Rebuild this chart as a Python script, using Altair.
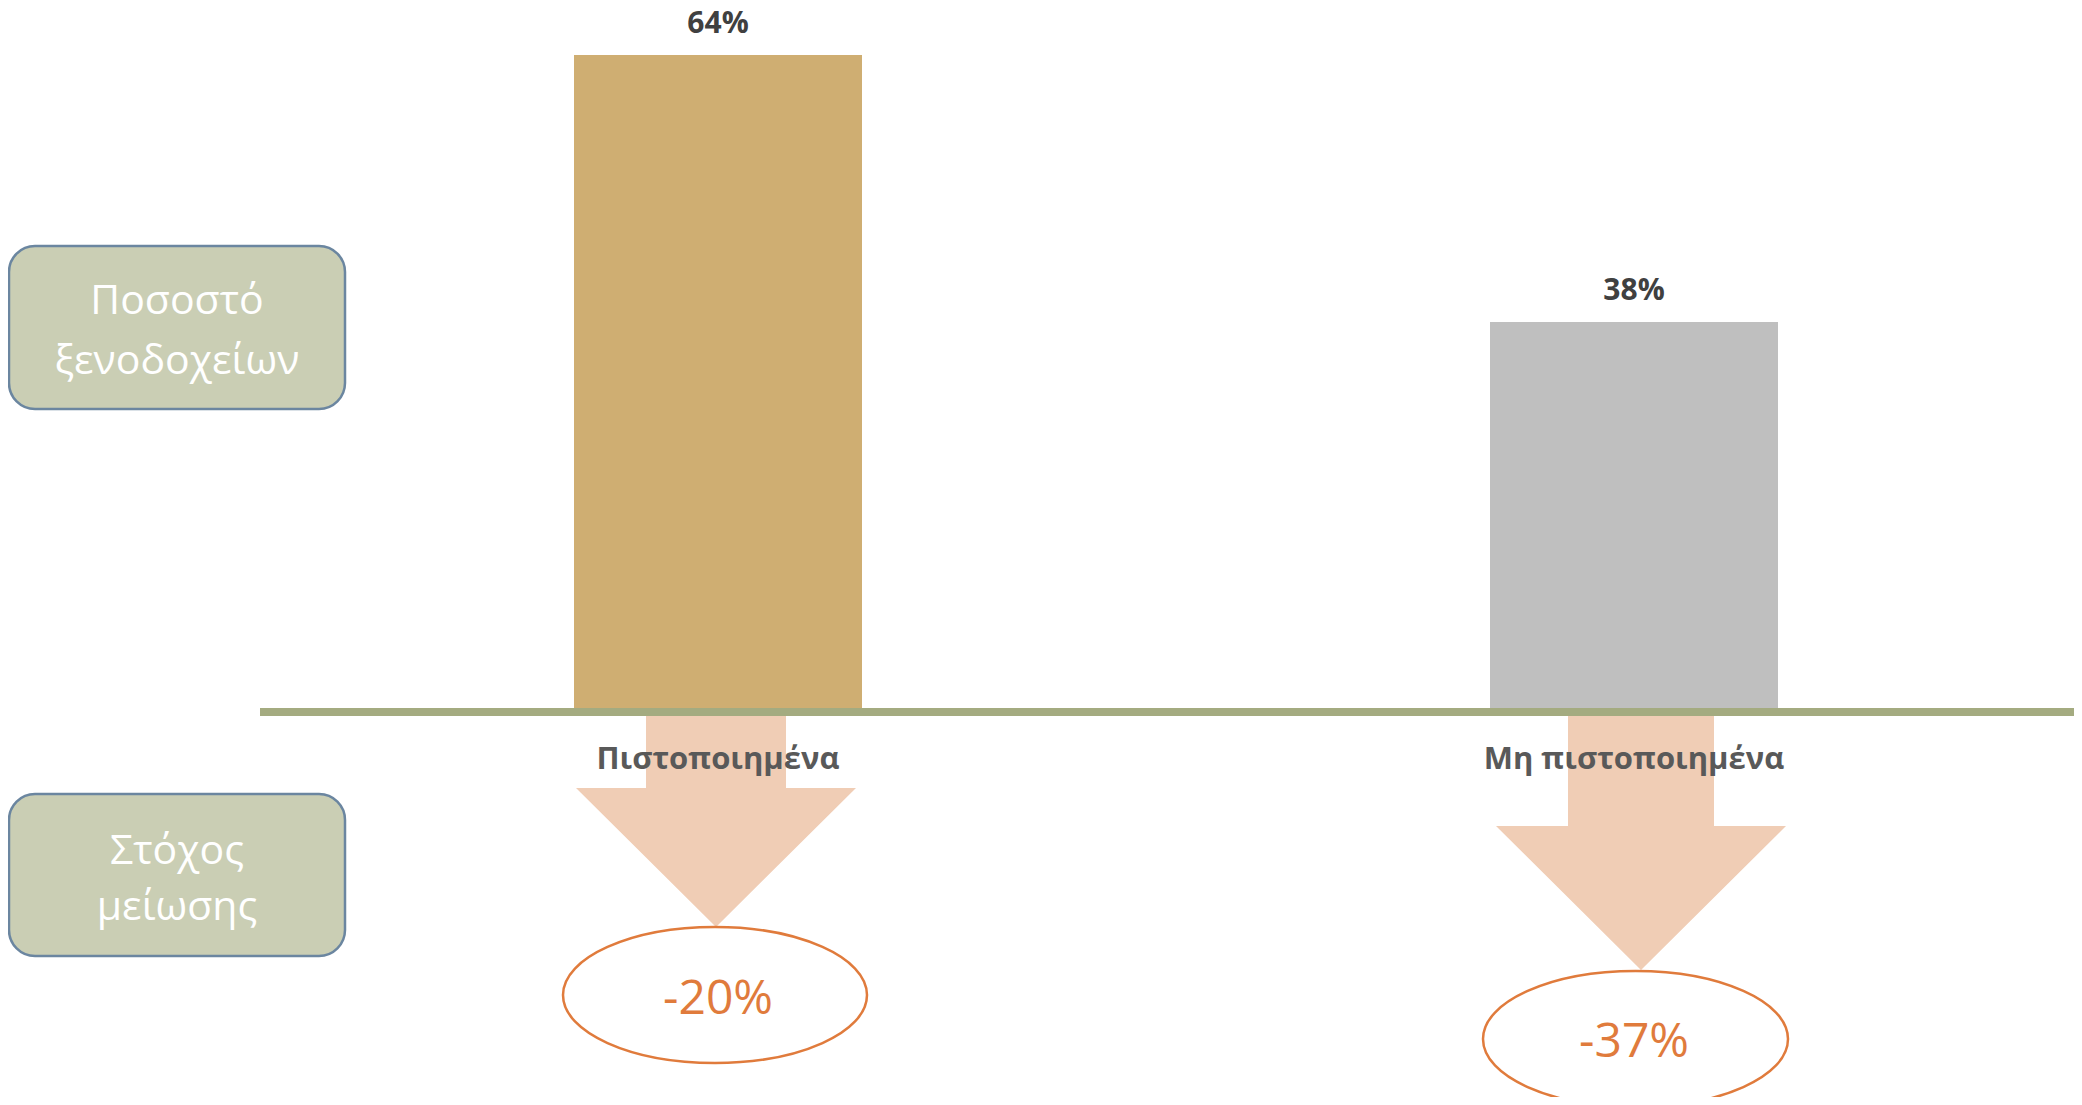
import altair as alt
import pandas as pd

# ---- data ----
categories = ["Πιστοποιημένα", "Μη πιστοποιημένα"]
shares = [64, 38]                 # % of hotels
targets = ["-20%", "-37%"]        # reduction target
box_labels = ["Ποσοστό\nξενοδοχείων", "Στόχος\nμείωσης"]

# ---- styles ----
FONT = "Open Sans"
BAR_COLORS = ["#CFAE72", "#BFBFBF"]
AXIS_COLOR = "#A4AB80"
ARROW_COLOR = "#F0CDB5"
TARGET_COLOR = "#E07B3C"
BOX_FILL = "#CACEB4"
BOX_STROKE = "#6B86A0"

W, H = 2066, 1089
SYM = 100.0  # pixels per unit of custom symbol path (size = (2*SYM)^2)


def f(v):
    return f"{v / SYM:.4f}"


def arrow_path(cx, shaft_half, head_half, head_y, tip_y):
    pts = [(cx - shaft_half, 0), (cx + shaft_half, 0), (cx + shaft_half, head_y),
           (cx + head_half, head_y), (cx, tip_y), (cx - head_half, head_y),
           (cx - shaft_half, head_y)]
    d = "M " + f(pts[0][0]) + " " + f(pts[0][1])
    for x, y in pts[1:]:
        d += " L " + f(x) + " " + f(y)
    return d + " Z"


def ellipse_path(cx, cy, rx, ry):
    k = 0.5523
    return (
        f"M {f(cx - rx)} {f(cy)} "
        f"C {f(cx - rx)} {f(cy - k * ry)} {f(cx - k * rx)} {f(cy - ry)} {f(cx)} {f(cy - ry)} "
        f"C {f(cx + k * rx)} {f(cy - ry)} {f(cx + rx)} {f(cy - k * ry)} {f(cx + rx)} {f(cy)} "
        f"C {f(cx + rx)} {f(cy + k * ry)} {f(cx + k * rx)} {f(cy + ry)} {f(cx)} {f(cy + ry)} "
        f"C {f(cx - k * rx)} {f(cy + ry)} {f(cx - rx)} {f(cy + k * ry)} {f(cx - rx)} {f(cy)} Z"
    )


arrow_paths = [arrow_path(-2, 70, 140, 76, 215), arrow_path(7, 73, 145, 114, 258)]
ellipse_paths = [ellipse_path(-3, 283, 152, 68), ellipse_path(1.5, 327, 152.5, 68)]
target_dy = [288, 331]

df = pd.DataFrame({"category": categories, "share": shares, "target": targets})

x_enc = alt.X(
    "category:N",
    sort=categories,
    scale=alt.Scale(type="band", domain=categories, range=[252, 2084],
                    paddingInner=0, paddingOuter=0),
    axis=None,
)
y_scale = alt.Scale(domain=[0, max(shares)], range=[704, 47], nice=False, zero=False)

base = alt.Chart(df)

bars = base.mark_bar(width=288).encode(
    x=x_enc,
    y=alt.Y("share:Q", scale=y_scale, axis=None),
    color=alt.Color("category:N", scale=alt.Scale(domain=categories, range=BAR_COLORS), legend=None),
)

value_labels = base.transform_calculate(lbl="datum.share + '%'").mark_text(
    dy=-31, fontSize=30, fontWeight="bold", color="#404040", font=FONT, baseline="middle"
).encode(x=x_enc, y=alt.Y("share:Q", scale=y_scale, axis=None), text="lbl:N")

arrows = base.mark_point(filled=True, opacity=1, strokeWidth=0, size=(2 * SYM) ** 2,
                         color=ARROW_COLOR).encode(
    x=x_enc,
    y=alt.datum(0),
    shape=alt.Shape("category:N", scale=alt.Scale(domain=categories, range=arrow_paths), legend=None),
)

baseline = alt.Chart(pd.DataFrame({"z": [0]})).mark_rule(strokeWidth=8, color=AXIS_COLOR).encode(
    y=alt.datum(0), x=alt.value(252), x2=alt.value(W)
)

cat_labels = base.mark_text(dy=48, fontSize=31, fontWeight="bold", color="#595959",
                            font=FONT, baseline="middle").encode(
    x=x_enc, y=alt.datum(0), text="category:N"
)

ellipses = base.mark_point(filled=True, fill="white", stroke=TARGET_COLOR, strokeWidth=2.5,
                           opacity=1, size=(2 * SYM) ** 2).encode(
    x=x_enc,
    y=alt.datum(0),
    shape=alt.Shape("category:N", scale=alt.Scale(domain=categories, range=ellipse_paths), legend=None),
)

target_layers = []
for cat, dy in zip(categories, target_dy):
    target_layers.append(
        base.transform_filter(alt.datum.category == cat).mark_text(
            dy=dy, fontSize=48, color=TARGET_COLOR, font=FONT, baseline="middle"
        ).encode(x=x_enc, y=alt.datum(0), text="target:N")
    )

# (box top, box bottom, first text line centre, line height)
box_pos = [(238, 401, 294, 60), (786, 948, 844, 56)]
box_layers = []
for lab, (y0, y1, ty, lh) in zip(box_labels, box_pos):
    bdf = pd.DataFrame({"label": [lab]})
    box_layers.append(
        alt.Chart(bdf).mark_rect(cornerRadius=26, fill=BOX_FILL, stroke=BOX_STROKE, strokeWidth=2.5).encode(
            x=alt.value(1), x2=alt.value(337), y=alt.value(y0), y2=alt.value(y1)
        )
    )
    box_layers.append(
        alt.Chart(bdf).mark_text(fontSize=41, color="white", font=FONT, lineBreak="\n",
                                 lineHeight=lh, baseline="middle", align="center").encode(
            x=alt.value(169), y=alt.value(ty), text="label:N"
        )
    )

chart = alt.layer(
    bars, value_labels, arrows, baseline, cat_labels, ellipses, *target_layers, *box_layers
).resolve_scale(shape="independent").properties(
    width=W, height=H, padding=0,
    autosize=alt.AutoSizeParams(type="none"),
    background="white",
).configure_view(stroke=None)

chart.save("out.html", embed_options={"renderer": "svg", "actions": False})
